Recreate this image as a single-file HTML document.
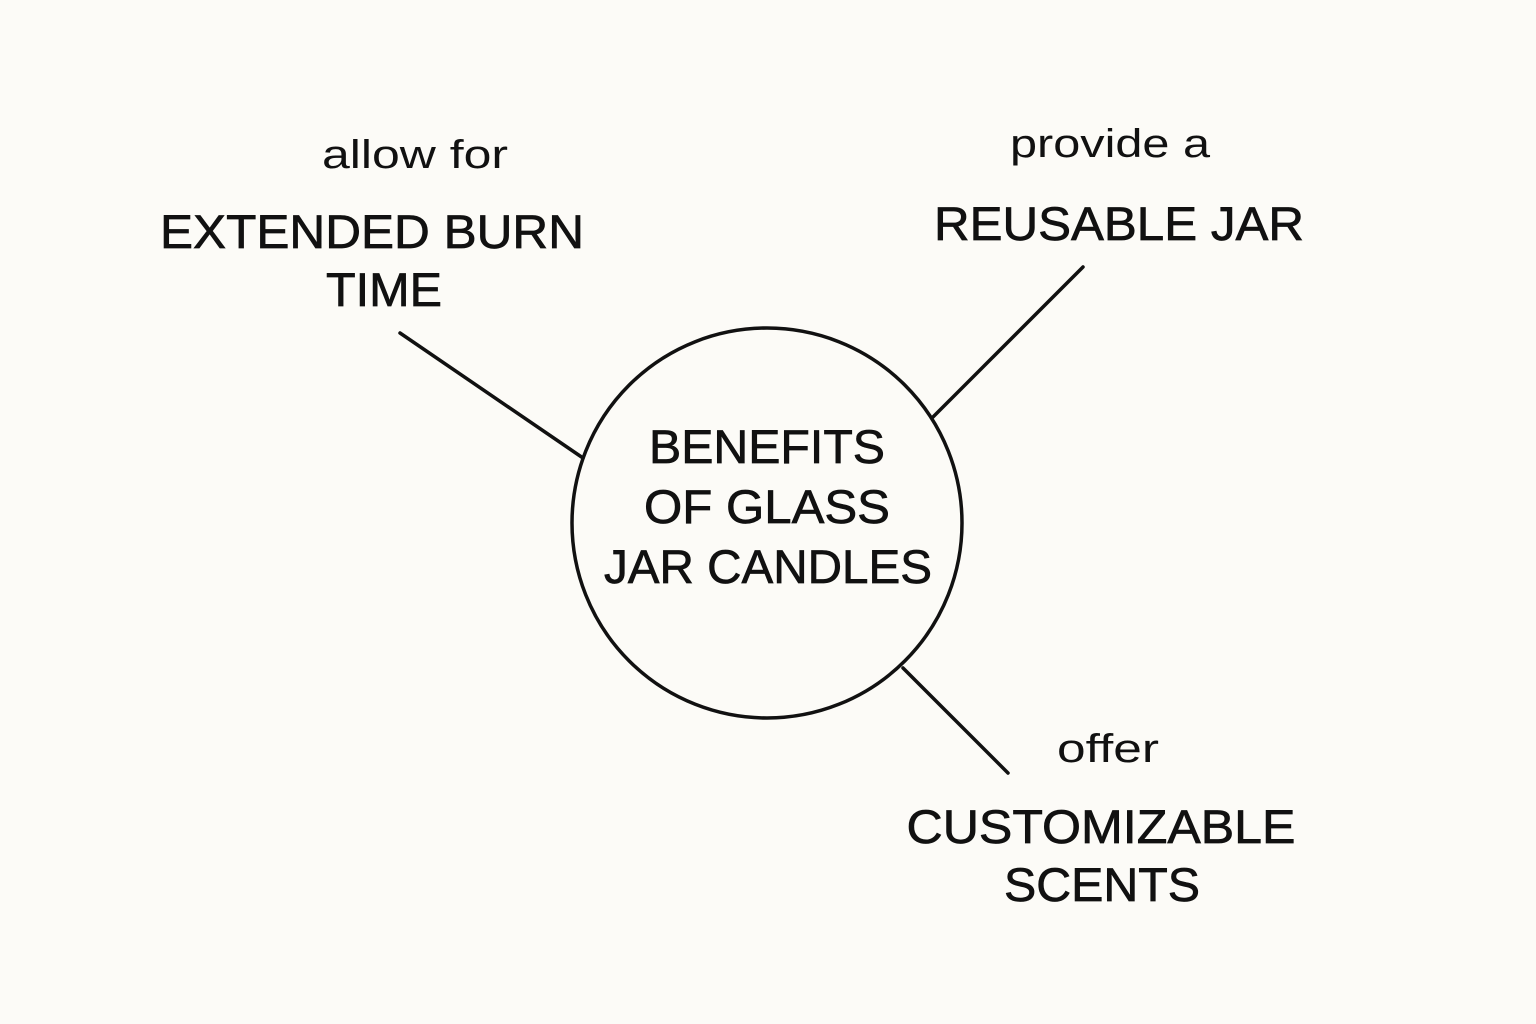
<!DOCTYPE html>
<html><head><meta charset="utf-8"><style>
html,body{margin:0;padding:0;background:#fcfbf7;}
svg{display:block}
text{font-family:"Liberation Sans",sans-serif;fill:#111;}
.big{font-size:47px;stroke:#111;stroke-width:0.7px;}
.small{font-size:40px;}
</style></head><body>
<svg width="1536" height="1024" viewBox="0 0 1536 1024" xmlns="http://www.w3.org/2000/svg">
<rect width="1536" height="1024" fill="#fcfbf7"/>
<circle cx="767" cy="523" r="195" fill="none" stroke="#111" stroke-width="3.5"/>
<g stroke="#111" stroke-width="3.5" stroke-linecap="round">
<line x1="400" y1="333" x2="583" y2="458"/>
<line x1="1083" y1="267" x2="933" y2="417"/>
<line x1="903" y1="668" x2="1008" y2="773"/>
</g>
<text class="small" x="415" y="168" text-anchor="middle" textLength="186" lengthAdjust="spacingAndGlyphs">allow for</text>
<text class="big" x="372" y="248" text-anchor="middle" textLength="424" lengthAdjust="spacingAndGlyphs">EXTENDED BURN</text>
<text class="big" x="384" y="306" text-anchor="middle" textLength="116" lengthAdjust="spacingAndGlyphs">TIME</text>
<text class="small" x="1110" y="157" text-anchor="middle" textLength="200" lengthAdjust="spacingAndGlyphs">provide a</text>
<text class="big" x="1119" y="240" text-anchor="middle" textLength="370" lengthAdjust="spacingAndGlyphs">REUSABLE JAR</text>
<text class="big" x="767" y="463" text-anchor="middle" textLength="236" lengthAdjust="spacingAndGlyphs">BENEFITS</text>
<text class="big" x="767" y="523" text-anchor="middle" textLength="246" lengthAdjust="spacingAndGlyphs">OF GLASS</text>
<text class="big" x="768" y="583" text-anchor="middle" textLength="328" lengthAdjust="spacingAndGlyphs">JAR CANDLES</text>
<text class="small" x="1108" y="762" text-anchor="middle" textLength="102" lengthAdjust="spacingAndGlyphs">offer</text>
<text class="big" x="1101" y="843" text-anchor="middle" textLength="389" lengthAdjust="spacingAndGlyphs">CUSTOMIZABLE</text>
<text class="big" x="1102" y="901" text-anchor="middle" textLength="196" lengthAdjust="spacingAndGlyphs">SCENTS</text>
</svg>
</body></html>
